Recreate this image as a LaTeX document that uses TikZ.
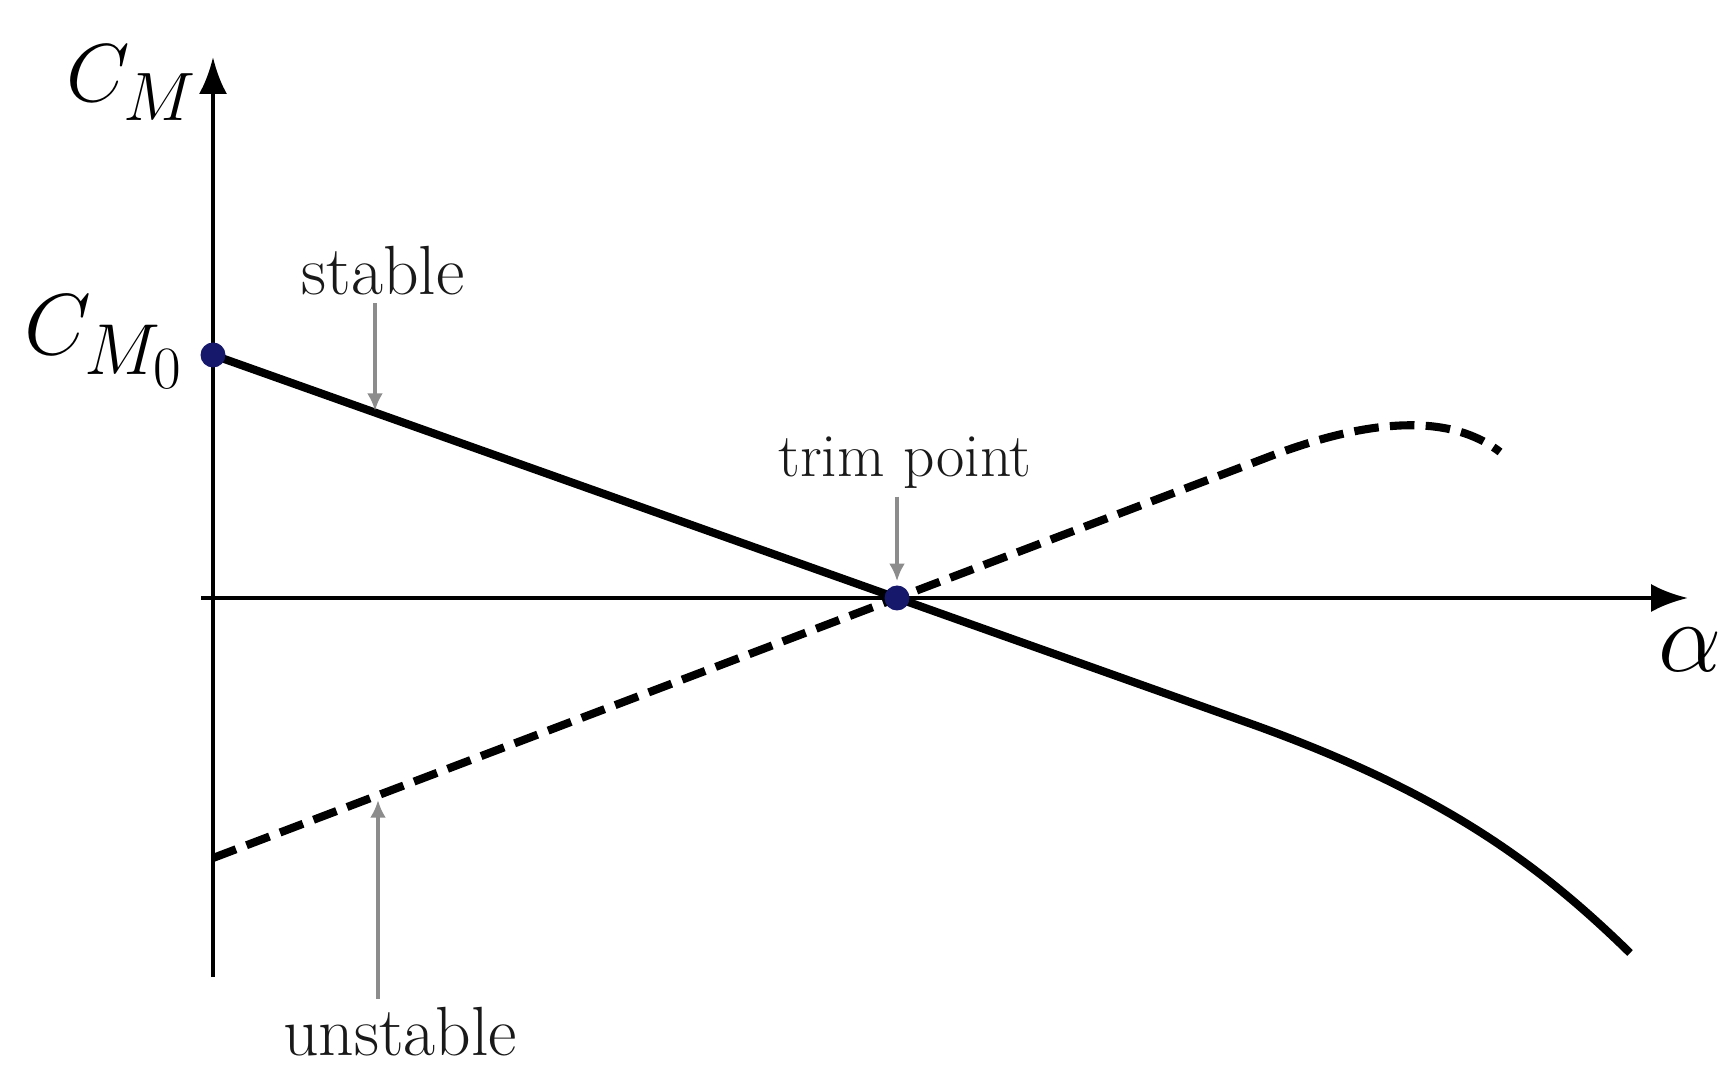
\documentclass[tikz,border=0pt]{standalone}
\usepackage{amsmath}
\usepackage{xcolor}
\usetikzlibrary{arrows.meta, positioning, calc}
\definecolor{dotblue}{RGB}{22,24,108}

\begin{document}
\begin{tikzpicture}[>=Latex, axis/.style={draw=black, line width=1.3pt}, curve/.style={draw=black, line width=2.3pt}]
    % Define styles for curves, pointers, dots and labels
    \tikzstyle{unst} = [curve, dash pattern=on 7pt off 3.2pt]
    \tikzstyle{pointer} = [draw=black!45, line width=1pt, -{Latex[length=5pt,width=4.5pt]}]
    \tikzstyle{dot} = [circle, fill=dotblue, inner sep=0pt, minimum size=0.25cm]
    \tikzstyle{word} = [font=\fontsize{19.8}{24}\selectfont, text=black!90, inner sep=2pt]
    \tikzstyle{sym} = [font=\fontsize{24.88}{30}\selectfont, inner sep=0pt]

    \useasboundingbox (-2.13,-4.68) rectangle (15.23,5.98);

    % Points placement
    \coordinate (ybot) at (0,-3.79);
    \coordinate (ytop) at (0,5.41);
    \coordinate (xleft) at (-0.12,0);
    \coordinate (xright) at (14.75,0);
    \coordinate (cm0) at (0,2.43);
    \coordinate (trim) at (6.84,0);
    \coordinate (um0) at (0,-2.6);
    \coordinate (sarr) at (1.62,1.87);
    \coordinate (uarr) at (1.65,-2.02);

    % Draw axes
    \draw[axis,-{Latex[length=10.5pt,width=8pt]}] (ybot) -- (ytop);
    \draw[axis,-{Latex[length=10.5pt,width=8pt]}] (xleft) -- (xright);

    % Stable and unstable curves
    \draw[curve] (cm0) -- (trim) -- (10.3,-1.23) .. controls (12.2,-1.9) and (13.2,-2.6) .. (14.17,-3.55);
    \draw[unst] (um0) -- (trim) -- (10.5,1.39) .. controls (11.4,1.74) and (12.3,1.9) .. (12.87,1.46);

    % Dots
    \node[dot] (cm0dot) at (cm0) {};
    \node[dot] (trimdot) at (trim) {};

    % Labels
    \node[sym, scale=0.94] (cmlab) at (-0.81,5.15) {$C_M$};
    \node[sym, scale=0.99, anchor=base east] (cm0lab) at (-0.28,2.43) {$C_{M_0}$};
    \node[sym, scale=1.15] (alab) at (14.77,-0.52) {$\alpha$};
    \node[word, anchor=base] (stable) at (1.70,3.03) {stable};
    \node[word, anchor=base, font=\fontsize{17.5}{21}\selectfont] (trimlab) at (6.92,1.21) {trim point};
    \node[word, anchor=base] (unstable) at (1.87,-4.57) {unstable};

    % Pointers to the curves
    \draw[pointer] (stable.south -| sarr) -- (sarr);
    \draw[pointer, shorten >=1pt] (trimlab.south -| trimdot) -- (trimdot.north);
    \draw[pointer] (unstable.north -| uarr) -- (uarr);
\end{tikzpicture}
\end{document}
